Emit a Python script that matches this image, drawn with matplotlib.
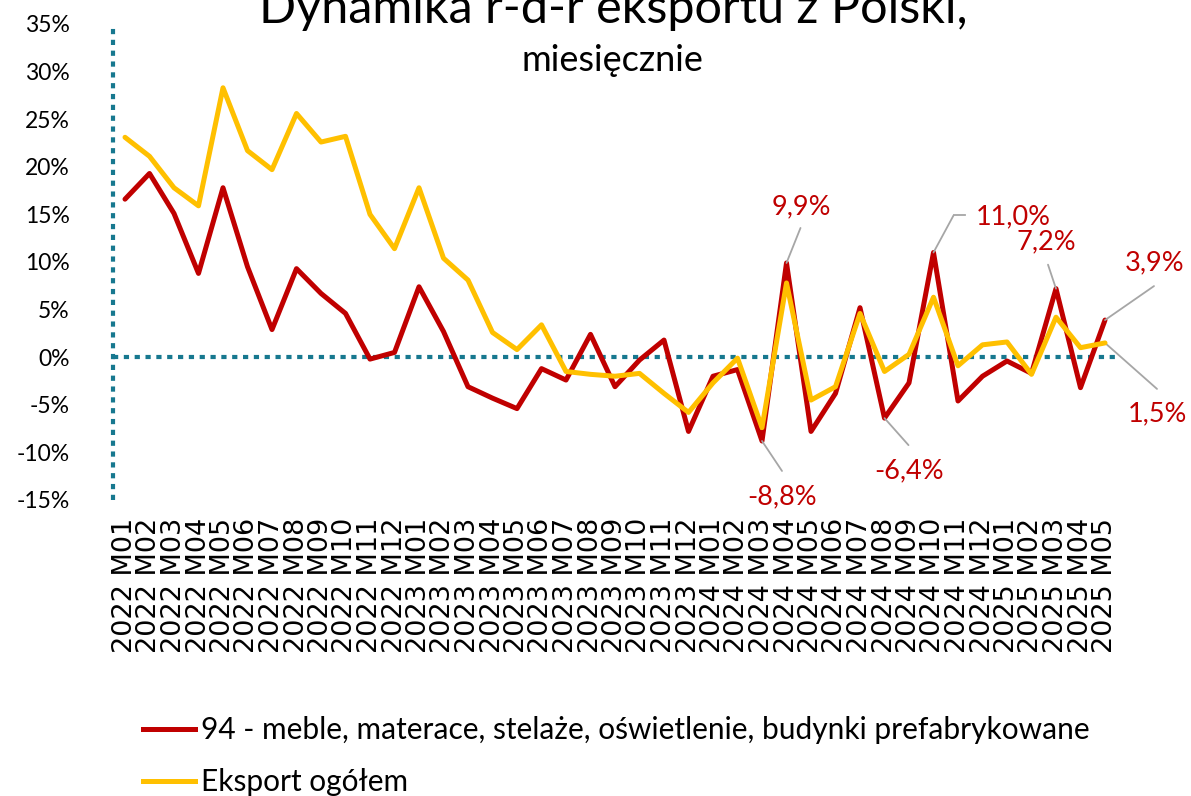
import matplotlib
matplotlib.use('Agg')
import matplotlib.pyplot as plt
from matplotlib.lines import Line2D

# data (% r/r)
years = [2022] * 12 + [2023] * 12 + [2024] * 12 + [2025] * 5
months = list(range(1, 13)) * 3 + list(range(1, 6))
categories = ['%d M%02d' % (y, m) for y, m in zip(years, months)]

meble = [16.6, 19.3, 15.1, 8.8, 17.8, 9.5, 2.9, 9.3, 6.7, 4.6, -0.2, 0.5,
         7.4, 2.7, -3.1, -4.3, -5.4, -1.2, -2.4, 2.4, -3.1, -0.3, 1.8, -7.8,
         -2.0, -1.3, -8.8, 9.9, -7.8, -3.8, 5.2, -6.4, -2.7, 11.0, -4.6, -2.0,
         -0.4, -1.7, 7.2, -3.2, 3.9]
eksport = [23.1, 21.1, 17.8, 15.9, 28.3, 21.7, 19.7, 25.6, 22.6, 23.2, 15.0, 11.4,
           17.8, 10.4, 8.1, 2.6, 0.8, 3.4, -1.5, -1.8, -2.0, -1.7, -3.8, -5.8,
           -2.7, -0.1, -7.4, 7.8, -4.5, -3.1, 4.6, -1.5, 0.3, 6.3, -0.9, 1.3,
           1.6, -1.8, 4.2, 1.0, 1.5]

label_meble = '94 - meble, materace, stelaże, oświetlenie, budynki prefabrykowane'
label_eksport = 'Eksport ogółem'
title = 'Dynamika r-d-r eksportu z Polski,'
subtitle = 'miesięcznie'
y_ticks = [-15, -10, -5, 0, 5, 10, 15, 20, 25, 30, 35]

RED = '#C00000'
YELLOW = '#FFC000'
TEAL = '#17788F'
GREY = '#A6A6A6'
CAL = 'Lato'

fig = plt.figure(figsize=(11.91, 7.96), dpi=100)
ax = fig.add_axes([112.75 / 1191, 296 / 796, 1004.5 / 1191, 476 / 796])

x = list(range(len(categories)))
ax.plot(x, meble, color=RED, lw=3.6, solid_joinstyle='round', solid_capstyle='round', zorder=3)
ax.plot(x, eksport, color=YELLOW, lw=3.6, solid_joinstyle='round', solid_capstyle='round', zorder=4)

ax.set_xlim(-0.5, len(categories) - 0.5)
ax.set_ylim(-15, 35)
for s in ax.spines.values():
    s.set_visible(False)
ax.axvline(-0.5, color=TEAL, lw=3, ls=(0, (1.25, 1.35)), clip_on=False, zorder=2)
ax.axhline(0, color=TEAL, lw=3, ls=(0, (1.25, 1.35)), zorder=2)

ax.set_yticks(y_ticks)
ax.set_yticklabels(['%d%%' % v for v in y_ticks], fontsize=16.5, family=CAL)
ax.set_xticks(x)
ax.set_xticklabels(categories, rotation=90, fontsize=19.5, family='DejaVu Sans', va='top')
ax.tick_params(axis='y', length=0, pad=31)
ax.tick_params(axis='x', length=0, pad=13)

# data labels: (series, index, text, label offset px, leader start px)
labels = [
    (meble, 27, '9,9%', (15, 56), (14, 35)),
    (meble, 26, '-8,8%', (20, -56), (20, -30)),
    (meble, 31, '-6,4%', (25, -53), (24, -27)),
    (meble, 38, '7,2%', (-10, 47), (-8, 24)),
    (meble, 40, '3,9%', (50, 57), (49, 34)),
    (eksport, 40, '1,5%', (52, -71), (52, -46)),
]
for series, i, txt, (dx, dy), (lx, ly) in labels:
    ax.annotate('', xy=(i, series[i]), xytext=(lx, ly), textcoords='offset pixels',
                arrowprops=dict(arrowstyle='-', color=GREY, lw=1.3, shrinkA=0, shrinkB=0))
    ax.annotate(txt, xy=(i, series[i]), xytext=(dx, dy), textcoords='offset pixels',
                ha='center', va='center', color=RED, fontsize=19.5, family=CAL, zorder=6)

# 11,0% with elbow leader
i = 33
ax.annotate('', xy=(i, meble[i]), xytext=(20, 37), textcoords='offset pixels',
            arrowprops=dict(arrowstyle='-', color=GREY, lw=1.3, shrinkA=0, shrinkB=0))
p0 = ax.transData.transform((i, meble[i]))
fig.add_artist(Line2D([(p0[0] + 20) / 1191, (p0[0] + 31) / 1191],
                      [(p0[1] + 37) / 796, (p0[1] + 37) / 796], color=GREY, lw=1.3))
ax.annotate('11,0%', xy=(i, meble[i]), xytext=(42, 36), textcoords='offset pixels',
            ha='left', va='center', color=RED, fontsize=19.5, family=CAL, zorder=6)

fig.text(613 / 1191, 1 - 23 / 796, title, ha='center', va='baseline', fontsize=35, family=CAL)
fig.text(612 / 1191, 1 - 71 / 796, subtitle, ha='center', va='baseline', fontsize=26, family=CAL)

handles = [Line2D([], [], color=RED, lw=3.6), Line2D([], [], color=YELLOW, lw=3.6)]
fig.legend(handles, [label_meble, label_eksport], loc='upper left',
           bbox_to_anchor=(143 / 1191, 1 - 716 / 796), frameon=False,
           prop={'family': CAL, 'size': 21.5}, handlelength=1.75, handletextpad=0.2,
           labelspacing=0.82, borderpad=0, borderaxespad=0)

plt.savefig('out.png', dpi=100)
plt.close()
